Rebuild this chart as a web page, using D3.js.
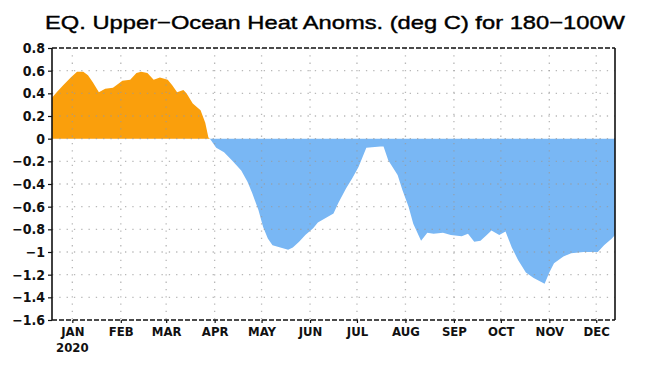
<!DOCTYPE html>
<html>
<head>
<meta charset="utf-8">
<script src="https://cdn.jsdelivr.net/npm/d3@7"></script>
<style>
  body { margin: 0; background: #fff; }
  svg { display: block; }
</style>
</head>
<body>
<div id="container"></div>
<script>
/* DATA */
const dates = [
  "2019-12-19", "2019-12-22", "2019-12-26", "2019-12-31", "2020-01-04", "2020-01-08",
  "2020-01-11", "2020-01-14", "2020-01-18", "2020-01-22", "2020-01-27", "2020-02-02",
  "2020-02-07", "2020-02-11", "2020-02-14", "2020-02-18", "2020-02-22", "2020-02-26",
  "2020-03-02", "2020-03-05", "2020-03-08", "2020-03-12", "2020-03-14", "2020-03-18",
  "2020-03-23", "2020-03-26", "2020-03-28", "2020-03-29",
  "2020-04-02", "2020-04-07", "2020-04-12", "2020-04-18", "2020-04-22", "2020-04-25",
  "2020-04-29", "2020-05-02", "2020-05-05", "2020-05-08", "2020-05-13", "2020-05-18",
  "2020-05-21", "2020-05-25", "2020-05-29", "2020-06-03", "2020-06-06", "2020-06-11",
  "2020-06-16", "2020-06-19", "2020-06-24", "2020-06-28", "2020-07-02", "2020-07-07",
  "2020-07-16", "2020-07-18", "2020-07-21", "2020-07-27", "2020-07-30", "2020-08-03",
  "2020-08-06", "2020-08-11", "2020-08-15", "2020-08-19", "2020-08-25", "2020-08-30",
  "2020-09-06", "2020-09-10", "2020-09-14", "2020-09-18", "2020-09-22", "2020-09-25",
  "2020-09-30", "2020-10-04", "2020-10-08", "2020-10-12", "2020-10-17", "2020-10-22",
  "2020-10-29", "2020-11-01", "2020-11-04", "2020-11-10", "2020-11-15", "2020-11-23",
  "2020-12-02", "2020-12-06", "2020-12-11", "2020-12-13"
];
const anomalies = [
  0.36, 0.41, 0.47, 0.54, 0.59, 0.59,
  0.56, 0.50, 0.41, 0.44, 0.45, 0.51,
  0.52, 0.58, 0.59, 0.58, 0.52, 0.54,
  0.52, 0.47, 0.41, 0.43, 0.40, 0.31,
  0.25, 0.14, 0.01, 0.00,
  -0.08, -0.12, -0.19, -0.28, -0.38, -0.48,
  -0.63, -0.78, -0.88, -0.94, -0.96, -0.98,
  -0.96, -0.91, -0.85, -0.79, -0.74, -0.70,
  -0.66, -0.57, -0.44, -0.35, -0.25, -0.08,
  -0.07, -0.07, -0.19, -0.32, -0.45, -0.60,
  -0.75, -0.90, -0.83, -0.84, -0.83, -0.85,
  -0.86, -0.84, -0.91, -0.90, -0.85, -0.81,
  -0.85, -0.82, -0.96, -1.07, -1.18, -1.23,
  -1.28, -1.18, -1.10, -1.04, -1.01, -1.00,
  -1.00, -0.94, -0.88, -0.85
];
const yTicks = [0.8, 0.6, 0.4, 0.2, 0, -0.2, -0.4, -0.6, -0.8, -1, -1.2, -1.4, -1.6];
const monthLabels = ["JAN", "FEB", "MAR", "APR", "MAY", "JUN", "JUL", "AUG", "SEP", "OCT", "NOV", "DEC"];
const titleText = "EQ. Upper\u2212Ocean Heat Anoms. (deg C) for 180\u2212100W";

/* CONSTANTS */
const width = 649, height = 373;
const plot = { left: 52, right: 615, top: 48, bottom: 320 };
const labelFont = "'Liberation Sans Narrow', 'DejaVu Sans Condensed', Arial, sans-serif";

const parse = d3.timeParse("%Y-%m-%d");
const data = dates.map((d, i) => ({ date: parse(d), value: anomalies[i] }));
const monthTicks = monthLabels.map((m, i) => new Date(2020, i, 1));

const svg = d3.select("#container")
  .append("svg")
  .attr("width", width)
  .attr("height", height);

// SCALES
const x = d3.scaleTime()
  .domain([parse("2019-12-19"), parse("2020-12-13")])
  .range([plot.left, plot.right]);

const y = d3.scaleLinear()
  .domain([-1.6, 0.8])
  .range([plot.bottom, plot.top]);

// TITLE
svg.append("text")
  .attr("x", 45)
  .attr("y", 29)
  .attr("textLength", 580)
  .attr("lengthAdjust", "spacingAndGlyphs")
  .style("font-family", "'Liberation Sans', Arial, sans-serif")
  .style("font-size", "19px")
  .style("fill", "#000")
  .style("stroke", "#000")
  .style("stroke-width", 0.4)
  .text(titleText);

// AREAS
const positive = d3.area()
  .x(d => x(d.date))
  .y0(y(0))
  .y1(d => y(Math.max(d.value, 0)));

const negative = d3.area()
  .x(d => x(d.date))
  .y0(y(0))
  .y1(d => y(Math.min(d.value, 0)));

svg.append("path")
  .datum(data)
  .attr("d", positive)
  .attr("fill", "#FA9F0C");

svg.append("path")
  .datum(data)
  .attr("d", negative)
  .attr("fill", "#79B7F4");

// GRID (DOTTED)
svg.append("g")
  .selectAll("line")
  .data(yTicks.filter(t => t < 0.8 && t > -1.6))
  .join("line")
  .attr("x1", plot.left)
  .attr("x2", plot.right)
  .attr("y1", d => y(d))
  .attr("y2", d => y(d))
  .attr("stroke", "#9a9a9a")
  .attr("stroke-opacity", 0.7)
  .attr("stroke-width", 1.3)
  .attr("stroke-dasharray", "1.3,6");

svg.append("g")
  .selectAll("line")
  .data(monthTicks)
  .join("line")
  .attr("x1", d => x(d))
  .attr("x2", d => x(d))
  .attr("y1", plot.top)
  .attr("y2", plot.bottom)
  .attr("stroke", "#9a9a9a")
  .attr("stroke-opacity", 0.7)
  .attr("stroke-width", 1.3)
  .attr("stroke-dasharray", "1.3,6");

// FRAME: solid left/right, dashed top/bottom
const frame = svg.append("g").attr("stroke", "#111").attr("stroke-width", 1.6);
frame.append("line")
  .attr("x1", plot.left).attr("x2", plot.left)
  .attr("y1", plot.top).attr("y2", plot.bottom);
frame.append("line")
  .attr("x1", plot.right).attr("x2", plot.right)
  .attr("y1", plot.top).attr("y2", plot.bottom);
frame.append("line")
  .attr("x1", plot.left).attr("x2", plot.right)
  .attr("y1", plot.top).attr("y2", plot.top)
  .attr("stroke-dasharray", "5,2");
frame.append("line")
  .attr("x1", plot.left).attr("x2", plot.right)
  .attr("y1", plot.bottom).attr("y2", plot.bottom)
  .attr("stroke-dasharray", "5,2");

// Y AXIS
const yAxis = d3.axisLeft(y)
  .tickValues(yTicks)
  .tickSize(4)
  .tickPadding(3)
  .tickFormat(d3.format("~g"));

svg.append("g")
  .attr("transform", `translate(${plot.left},0)`)
  .call(yAxis)
  .call(g => g.select(".domain").remove())
  .call(g => g.selectAll(".tick line").attr("stroke", "#111").attr("stroke-width", 1.2))
  .call(g => g.selectAll(".tick text")
    .style("font-family", labelFont)
    .style("font-weight", "bold")
    .style("font-size", "14px")
    .style("fill", "#111"));

// X AXIS
const xAxis = d3.axisBottom(x)
  .tickValues(monthTicks)
  .tickSize(3)
  .tickPadding(4)
  .tickFormat((d, i) => monthLabels[i]);

svg.append("g")
  .attr("transform", `translate(0,${plot.bottom})`)
  .call(xAxis)
  .call(g => g.select(".domain").remove())
  .call(g => g.selectAll(".tick line").attr("stroke", "#111").attr("stroke-width", 1.2))
  .call(g => g.selectAll(".tick text")
    .style("font-family", labelFont)
    .style("font-weight", "bold")
    .style("font-size", "13px")
    .style("fill", "#111"));

svg.append("text")
  .attr("x", x(monthTicks[0]))
  .attr("y", 352)
  .attr("text-anchor", "middle")
  .style("font-family", labelFont)
  .style("font-weight", "bold")
  .style("font-size", "13px")
  .style("fill", "#111")
  .text("2020");
</script>
</body>
</html>
